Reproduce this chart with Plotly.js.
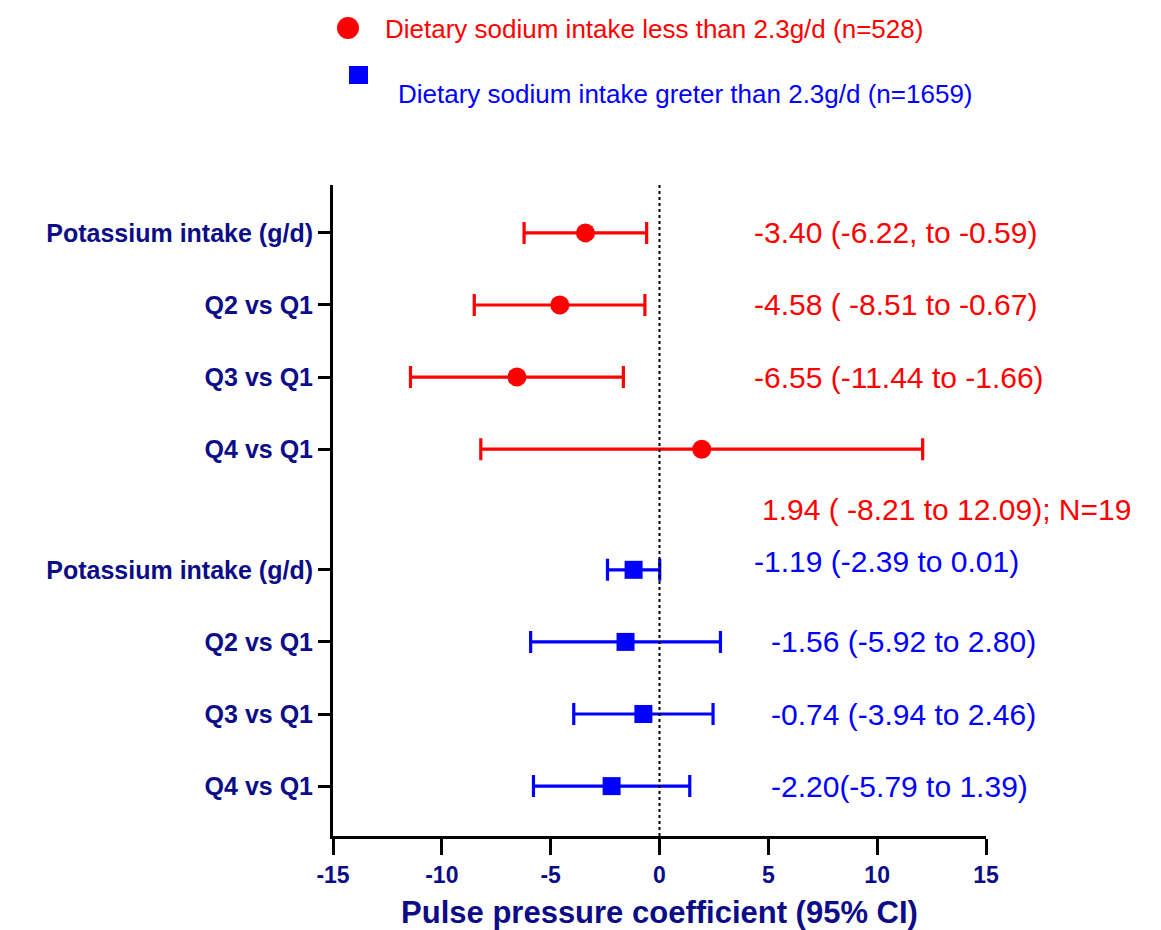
<!DOCTYPE html>
<html>
<head>
<meta charset="utf-8">
<script src="https://cdn.plot.ly/plotly-3.0.1.min.js"></script>
<style>html,body{margin:0;padding:0;background:#fff;}#chart{width:1161px;height:930px;}</style>
</head>
<body>
<div id="chart"></div>
<script>
// ---- data ----
const rowLabels = ["Potassium intake (g/d)", "Q2 vs Q1", "Q3 vs Q1", "Q4 vs Q1"];
const lowName = "Dietary sodium intake less than 2.3g/d (n=528)";
const highName = "Dietary sodium intake greter than 2.3g/d (n=1659)";
const lowEst = [-3.40, -4.58, -6.55, 1.94];
const lowLo  = [-6.22, -8.51, -11.44, -8.21];
const lowHi  = [-0.59, -0.67, -1.66, 12.09];
const lowText = ["-3.40 (-6.22, to -0.59)", "-4.58 ( -8.51 to -0.67)", "-6.55 (-11.44 to -1.66)", "1.94 ( -8.21 to 12.09); N=19"];
const highEst = [-1.19, -1.56, -0.74, -2.20];
const highLo  = [-2.39, -5.92, -3.94, -5.79];
const highHi  = [0.01, 2.80, 2.46, 1.39];
const highText = ["-1.19 (-2.39 to 0.01)", "-1.56 (-5.92 to 2.80)", "-0.74 (-3.94 to 2.46)", "-2.20(-5.79 to 1.39)"];
const xTicks = [-15, -10, -5, 0, 5, 10, 15];

// ---- layout helpers ----
const RED = "#ff0000", BLUE = "#0000ff", NAVY = "#0c0c88";
const FONT = "Arial, 'Liberation Sans', sans-serif";
const gap = 1.673;
const lowPos = rowLabels.map((_, i) => i);
const highPos = rowLabels.map((_, i) => 3 + gap + i);
const lowTextDy = [0, 0, 0, 0.83];
const highTextDy = [-0.12, 0, 0, 0];
const lowTextX = [0.6416, 0.6416, 0.6416, 0.654];
const highTextX = [0.6416, 0.668, 0.668, 0.668];

function errTrace(est, lo, hi, pos, color, symbol, name, size) {
  return {
    type: "scatter", mode: "markers", name: name, showlegend: false,
    x: est, y: pos,
    marker: {color: color, size: size, symbol: symbol},
    error_x: {type: "data", symmetric: false,
      array: hi.map((h, i) => h - est[i]),
      arrayminus: lo.map((l, i) => est[i] - l),
      color: color, thickness: 3.2, width: 11}
  };
}

const traces = [
  errTrace(lowEst, lowLo, lowHi, lowPos, RED, "circle", lowName, 19),
  errTrace(highEst, highLo, highHi, highPos, BLUE, "square", highName, 18)
];

const annotations = [];
lowText.forEach((t, i) => annotations.push({
  xref: "paper", yref: "y", x: lowTextX[i], y: lowPos[i] + lowTextDy[i],
  text: t, showarrow: false, xanchor: "left", yanchor: "middle",
  font: {family: FONT, size: 30, color: RED}
}));
highText.forEach((t, i) => annotations.push({
  xref: "paper", yref: "y", x: highTextX[i], y: highPos[i] + highTextDy[i],
  text: t, showarrow: false, xanchor: "left", yanchor: "middle",
  font: {family: FONT, size: 30, color: BLUE}
}));
// legend text
annotations.push({xref: "paper", yref: "paper", x: (383 - 333) / 653, y: (836 - 29) / 651,
  text: lowName, showarrow: false, xanchor: "left", yanchor: "middle",
  font: {family: FONT, size: 26, color: RED}});
annotations.push({xref: "paper", yref: "paper", x: (396 - 333) / 653, y: (836 - 94) / 651,
  text: highName, showarrow: false, xanchor: "left", yanchor: "middle",
  font: {family: FONT, size: 26, color: BLUE}});

const pxX = p => (p - 333) / 653;
const pxY = p => (836 - p) / 651;

const shapes = [
  {type: "line", xref: "x", yref: "paper", x0: 0, x1: 0, y0: 0, y1: 1.0,
   line: {color: "black", width: 2, dash: "dot"}},
  {type: "circle", xref: "paper", yref: "paper",
   x0: pxX(337), x1: pxX(359), y0: pxY(39), y1: pxY(17),
   fillcolor: RED, line: {width: 0}},
  {type: "rect", xref: "paper", yref: "paper",
   x0: pxX(349), x1: pxX(368), y0: pxY(84), y1: pxY(66),
   fillcolor: BLUE, line: {width: 0}}
];

const layout = {
  width: 1161, height: 930,
  margin: {l: 333, r: 175, t: 185, b: 94},
  paper_bgcolor: "#ffffff", plot_bgcolor: "#ffffff",
  showlegend: false,
  font: {family: FONT},
  xaxis: {
    range: [-15, 15], tickvals: xTicks, ticktext: xTicks.map(String),
    showgrid: false, zeroline: false,
    showline: true, linecolor: "black", linewidth: 3,
    ticks: "outside", ticklen: 16, tickwidth: 3, tickcolor: "black",
    tickfont: {family: FONT, size: 23, color: NAVY, weight: "bold"},
    title: {text: "<b>Pulse pressure coefficient (95% CI)</b>", standoff: 15,
      font: {family: FONT, size: 31, color: NAVY}},
    fixedrange: true
  },
  yaxis: {
    range: [8.365, -0.664],
    tickvals: lowPos.concat(highPos),
    ticktext: rowLabels.concat(rowLabels).map(s => "<b>" + s + "</b>"),
    showgrid: false, zeroline: false,
    showline: true, linecolor: "black", linewidth: 3,
    ticks: "outside", ticklen: 12, tickwidth: 3, tickcolor: "black",
    tickfont: {family: FONT, size: 25, color: NAVY},
    fixedrange: true
  },
  annotations: annotations,
  shapes: shapes
};

Plotly.newPlot("chart", traces, layout, {displayModeBar: false, staticPlot: true});
</script>
</body>
</html>
